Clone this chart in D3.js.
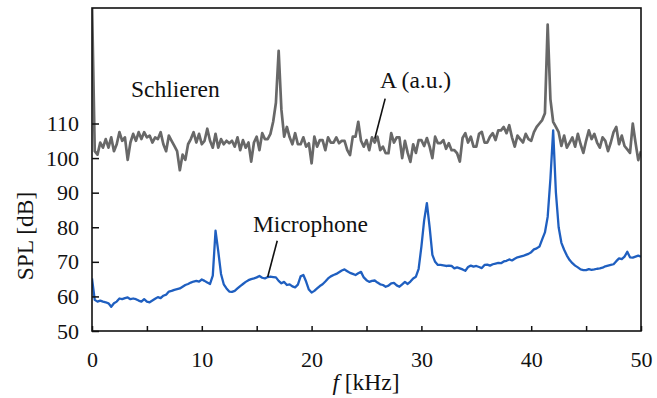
<!DOCTYPE html>
<meta charset="utf-8">
<style>
    body {
        margin: 0;
        background-color: #ffffff;
    }

    svg text {
        font-family: "Liberation Serif", "Times New Roman", serif;
        fill: #111;
    }

    .axis text {
        font-size: 22px;
    }

    .axis line {
        stroke: #111;
        stroke-width: 1.5px;
    }

    .lbl {
        font-size: 23.5px;
    }
</style>
<svg width="657" height="398"></svg>

<script src="https://cdn.jsdelivr.net/npm/d3@7"></script>
<script>
    // sampling step of both spectra, kHz
    let fStep = 0.25;

    // Schlieren amplitude A (a.u.), one row per kHz
    let schlieren = [
        145, 102, 101, 104.5,
        103, 105.5, 103, 106,
        102, 104, 107.5, 105,
        106, 99.5, 104.5, 107,
        105, 107.5, 105.5, 107.5,
        106, 106.5, 104.5, 106,
        105.5, 107.5, 104, 102,
        106.5, 105, 103.5, 102,
        96.5, 101, 99.5, 104,
        105.5, 107.5, 104.5, 107,
        104, 105, 108.5, 105,
        103, 107, 103, 105.5,
        104, 105, 104.3, 105,
        103.3, 106, 102.3, 105.2,
        103, 104.5, 99, 104.5,
        106.2, 102.3, 107.2, 105.5,
        105.5, 107, 110.5, 116,
        131, 114, 106.2, 109,
        106, 104, 107.2, 104,
        104, 106, 103.3, 104.3,
        98.5, 106.2, 103.3, 105.2,
        105.2, 102.3, 106, 104.5,
        104.5, 106, 104.3, 105,
        105, 102.3, 100.9, 106.2,
        106.2, 110.5, 105, 103.3,
        105.2, 102.3, 106, 104.5,
        106.2, 102.3, 103.3, 101.4,
        101.4, 107.2, 104.5, 106,
        106, 100, 105, 101.5,
        98.9, 104, 101.5, 105.2,
        105.2, 103.5, 105.8, 103.3,
        100, 106.2, 104.3, 104.3,
        105.2, 102.7, 104.3, 102.3,
        102.3, 101.4, 99, 105.8,
        107.2, 104.5, 106.2, 103.3,
        103.3, 107, 107.6, 104.5,
        104.5, 106.2, 107.2, 105.2,
        108, 108, 109, 107.2,
        109.5, 106, 103.3, 106.5,
        105.5, 104.5, 107, 105.5,
        105, 107.5, 109, 110,
        111, 113, 138.6, 117,
        110.5, 109, 107.5, 103.5,
        106.5, 103, 104.5, 106,
        103.3, 107, 104, 101.5,
        105, 108, 105.5, 107,
        104.5, 103, 106, 105,
        102, 104.5, 107.5, 109,
        104, 106.5, 103.5, 102.5,
        101.5, 110, 104.5, 99.4,
        102
    ];

    // microphone SPL (dB), one row per kHz
    let microphone = [
        65.2, 59, 58.5, 58.8,
        58.5, 58.3, 58, 57,
        58, 58.5, 59.4, 59.2,
        59.5, 59.7, 59.2, 59.4,
        59.2, 58.8, 58.5, 59.2,
        58.5, 58.3, 58.8, 59.3,
        59.8, 59.5, 60.2, 60.5,
        61.4, 61.6, 61.9, 62.1,
        62.3, 62.8, 63.3, 63.6,
        64, 64.3, 64.5, 64.3,
        64.9, 64.5, 64, 63.6,
        66, 79, 73, 66.5,
        63.5, 62.3, 61.4, 61.3,
        61.6, 62.3, 63, 63.6,
        64.2, 64.7, 65, 65.2,
        65.5, 65.9, 65.4, 65.2,
        65.6, 65.7, 65.6, 65.5,
        64.5, 63.8, 64.2, 63.3,
        63.5, 62.9, 62.6, 63.4,
        65.8, 66.2, 64.3, 62,
        61.1, 61.6, 62.3, 63,
        63.5, 64.3, 65.2, 65.8,
        66.2, 66.5, 67, 67.5,
        67.8, 67.3, 66.8, 66.5,
        66.2, 66.7, 67.1, 65.5,
        64.7, 64.2, 64.5, 64.6,
        64, 63.5, 63.3, 62.8,
        63.1, 63.8, 63.9, 63.2,
        62.8, 63.5, 64.2, 63.6,
        64.3, 65.2, 65.7, 68,
        74.4, 82, 87, 80,
        72, 70, 69.1, 69.1,
        69, 68.8, 68.9, 68.8,
        68.1, 68.4, 68.1, 67.8,
        67.4, 68.5, 68.9, 68.6,
        68.8, 68.5, 68.2, 69.1,
        69.2, 68.9, 69.3, 69.5,
        69.7, 69.6, 70.1, 70.3,
        70.7, 70.4, 70.9, 71.3,
        71.5, 71.7, 72, 72.3,
        72.8, 73.6, 73.9, 74.4,
        76.5, 78.5, 83, 94,
        108, 90, 80, 75.5,
        73.5, 71.8, 70.5, 69.6,
        68.9, 68.4, 67.8, 67.6,
        67.6, 67.9, 67.7, 67.8,
        68, 68.1, 68.3, 68.7,
        68.9, 69.1, 69.3, 70.2,
        71, 70.8, 71.5, 72.9,
        71.3, 71.2, 71.5, 71.8,
        71.5
    ];

    let xTicks = [0, 5, 10, 15, 20, 25, 30, 35, 40, 45, 50];
    let yTicks = [50, 60, 70, 80, 90, 100, 110];

    let svg = d3.select("svg"),
            width = +svg.attr("width"),
            height = +svg.attr("height");

    let margin = {top: 8, right: 16, bottom: 67, left: 92};
    let w = width - margin.left - margin.right,
            h = height - margin.top - margin.bottom;

    let x = d3.scaleLinear().domain([0, 50]).range([0, w]);
    let y = d3.scaleLinear().domain([50, 143.4]).range([h, 0]);

    let g = svg.append("g")
            .attr("transform", "translate(" + margin.left + "," + margin.top + ")");

    g.append("clipPath").attr("id", "plot")
            .append("rect").attr("width", w).attr("height", h);

    let line = d3.line()
            .x((d, i) => x(i * fStep))
            .y((d) => y(d));

    g.append("path")
            .datum(schlieren)
            .attr("clip-path", "url(#plot)")
            .attr("fill", "none")
            .attr("stroke", "#686868")
            .attr("stroke-width", 2.7)
            .attr("stroke-linejoin", "round")
            .attr("d", line);

    g.append("path")
            .datum(microphone)
            .attr("clip-path", "url(#plot)")
            .attr("fill", "none")
            .attr("stroke", "#1f5fc0")
            .attr("stroke-width", 2.3)
            .attr("stroke-linejoin", "round")
            .attr("d", line);

    // axes with inward ticks
    let yAxis = g.append("g").attr("class", "axis")
            .call(d3.axisLeft(y).tickValues(yTicks).tickSizeInner(-7).tickSizeOuter(0).tickPadding(13));

    let xAxis = g.append("g").attr("class", "axis")
            .attr("transform", "translate(0," + h + ")")
            .call(d3.axisBottom(x).tickValues(xTicks).tickSizeInner(-5).tickSizeOuter(0).tickPadding(20)
                    .tickFormat((d) => d % 10 === 0 ? d : ""));

    yAxis.select(".domain").remove();
    xAxis.select(".domain").remove();
    yAxis.selectAll("text").attr("fill", "#111");
    xAxis.selectAll("text").attr("fill", "#111");

    // frame
    g.append("rect")
            .attr("width", w)
            .attr("height", h)
            .attr("fill", "none")
            .attr("stroke", "#111")
            .attr("stroke-width", 1.6);

    // annotations
    g.append("text").attr("class", "lbl")
            .attr("x", x(3.55)).attr("y", y(117.6))
            .text("Schlieren");

    g.append("text").attr("class", "lbl")
            .attr("x", x(26.23)).attr("y", y(120.2))
            .text("A (a.u.)");

    g.append("line")
            .attr("x1", x(26.7)).attr("y1", y(117.2))
            .attr("x2", x(25.75)).attr("y2", y(105.6))
            .attr("stroke", "#111").attr("stroke-width", 1.6);

    g.append("text").attr("class", "lbl")
            .attr("x", x(14.66)).attr("y", y(78.6))
            .text("Microphone");

    g.append("line")
            .attr("x1", x(16.87)).attr("y1", y(76.1))
            .attr("x2", x(16.0)).attr("y2", y(65.6))
            .attr("stroke", "#111").attr("stroke-width", 1.6);

    // axis titles
    svg.append("text").attr("class", "lbl")
            .attr("transform", "translate(33,236) rotate(-90)")
            .attr("text-anchor", "middle")
            .text("SPL [dB]");

    let xt = svg.append("text").attr("class", "lbl")
            .attr("x", 366).attr("y", 390)
            .attr("text-anchor", "middle");
    xt.append("tspan").attr("font-style", "italic").text("f");
    xt.append("tspan").text(" [kHz]");
</script>
